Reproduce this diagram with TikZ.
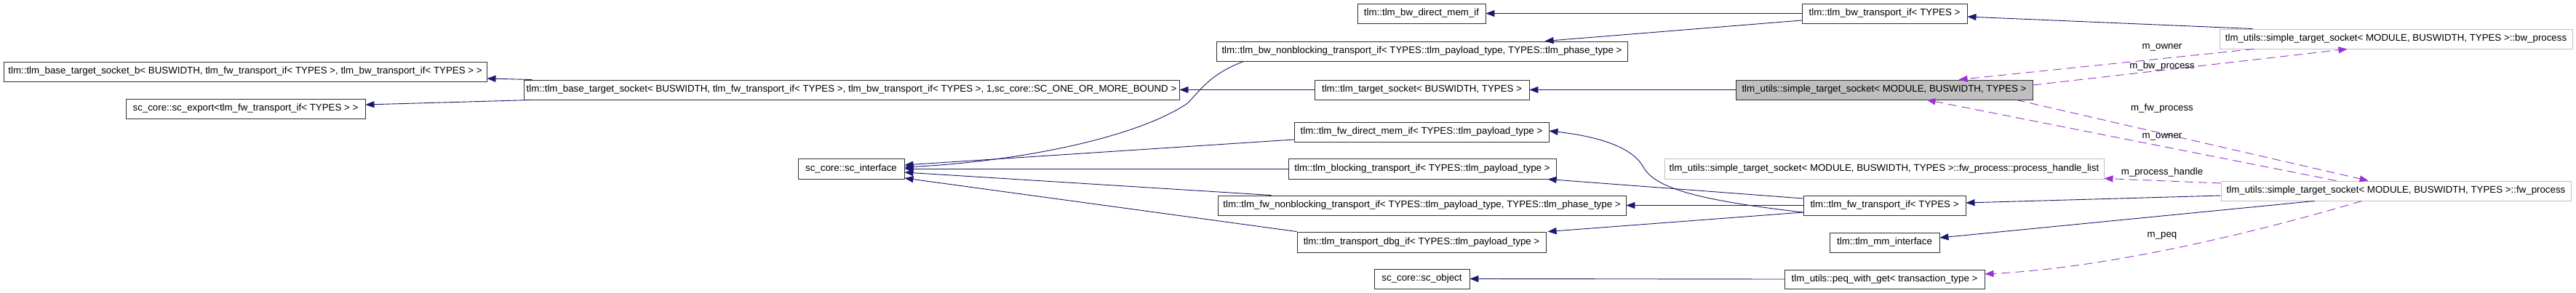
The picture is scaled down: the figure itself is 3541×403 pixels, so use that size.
\documentclass[tikz,border=0pt]{standalone}
\usepackage{fontspec}
\setmainfont{Liberation Sans}
\usetikzlibrary{arrows.meta}
\definecolor{edgeblue}{HTML}{191970}
\definecolor{usepurple}{HTML}{9A32CD}
\definecolor{mainfill}{HTML}{BFBFBF}
\definecolor{lightborder}{HTML}{BFBFBF}
\definecolor{boxborder}{HTML}{303030}
\begin{document}
\begin{tikzpicture}[x=1pt,y=-1pt,
  cls/.style={draw=boxborder, line width=0.9pt, fill=white, inner sep=0pt, font=\fontsize{13.3}{16}\selectfont, minimum height=27pt, anchor=center},
  mainbox/.style={cls, fill=mainfill},
  extbox/.style={cls, draw=lightborder},
  inh/.style={draw=edgeblue, line width=0.9pt, -{Triangle[length=12pt,width=9pt]}},
  use/.style={draw=usepurple, line width=0.9pt, dash pattern=on 12pt off 7pt, -{Triangle[length=12pt,width=9pt]}},
  lbl/.style={font=\fontsize{13.3}{16}\selectfont, inner sep=0pt}]
\fill[white] (0,0) rectangle (3541,403);
\useasboundingbox (0,0) rectangle (3541,403);

% column 1
\node[cls, minimum width=664pt] (bsb) at (337,98.5) {tlm::tlm\_base\_target\_socket\_b< BUSWIDTH, tlm\_fw\_transport\_if< TYPES >, tlm\_bw\_transport\_if< TYPES > >};
\node[cls, minimum width=329pt] (exp) at (337.5,149.5) {sc\_core::sc\_export<tlm\_fw\_transport\_if< TYPES > >};
% column 2
\node[cls, minimum width=901pt] (bts) at (1170.5,123.5) {tlm::tlm\_base\_target\_socket< BUSWIDTH, tlm\_fw\_transport\_if< TYPES >, tlm\_bw\_transport\_if< TYPES >, 1,sc\_core::SC\_ONE\_OR\_MORE\_BOUND >};
\node[cls, minimum width=146pt, minimum height=28pt] (sci) at (1170,232) {sc\_core::sc\_interface};
% column 3
\node[cls, minimum width=176pt] (bwdm) at (1954,18.5) {tlm::tlm\_bw\_direct\_mem\_if};
\node[cls, minimum width=565pt] (bwnb) at (1954.5,70.5) {tlm::tlm\_bw\_nonblocking\_transport\_if< TYPES::tlm\_payload\_type, TYPES::tlm\_phase\_type >};
\node[cls, minimum width=295pt] (ts) at (1954.5,123.5) {tlm::tlm\_target\_socket< BUSWIDTH, TYPES >};
\node[cls, minimum width=350pt] (fwdm) at (1954,181.5) {tlm::tlm\_fw\_direct\_mem\_if< TYPES::tlm\_payload\_type >};
\node[cls, minimum width=368pt, minimum height=28pt] (blk) at (1955,232) {tlm::tlm\_blocking\_transport\_if< TYPES::tlm\_payload\_type >};
\node[cls, minimum width=561pt] (fwnb) at (1954.5,282.5) {tlm::tlm\_fw\_nonblocking\_transport\_if< TYPES::tlm\_payload\_type, TYPES::tlm\_phase\_type >};
\node[cls, minimum width=342pt, minimum height=28pt] (dbg) at (1954,333) {tlm::tlm\_transport\_dbg\_if< TYPES::tlm\_payload\_type >};
\node[cls, minimum width=131pt] (sco) at (1954.5,383.5) {sc\_core::sc\_object};
% column 4
\node[cls, minimum width=227pt] (bwt) at (2590.5,18.5) {tlm::tlm\_bw\_transport\_if< TYPES >};
\node[mainbox, minimum width=408pt] (sts) at (2590,123.5) {tlm\_utils::simple\_target\_socket< MODULE, BUSWIDTH, TYPES >};
\node[extbox, minimum width=604pt, minimum height=28pt] (phl) at (2590,232) {tlm\_utils::simple\_target\_socket< MODULE, BUSWIDTH, TYPES >::fw\_process::process\_handle\_list};
\node[cls, minimum width=223pt] (fwt) at (2590.5,282.5) {tlm::tlm\_fw\_transport\_if< TYPES >};
\node[cls, minimum width=151pt] (mm) at (2590.5,333.5) {tlm::tlm\_mm\_interface};
\node[cls, minimum width=275pt, minimum height=26pt] (peq) at (2590.5,384) {tlm\_utils::peq\_with\_get< transaction\_type >};
% column 5
\node[extbox, minimum width=485pt] (bwp) at (3293.5,53.5) {tlm\_utils::simple\_target\_socket< MODULE, BUSWIDTH, TYPES >::bw\_process};
\node[extbox, minimum width=481pt] (fwp) at (3293.5,262.5) {tlm\_utils::simple\_target\_socket< MODULE, BUSWIDTH, TYPES >::fw\_process};

% inheritance edges
\draw[inh] ([shift={(12,0)}]bts.north west) -- ([shift={(0,9.5)}]bsb.east);
\draw[inh] ([shift={(12,0)}]bts.south west) -- ([shift={(0,-5.5)}]exp.east);
\draw[inh] (ts.west) -- (bts.east);
\draw[inh] (sts.west) -- (ts.east);
\draw[inh] ([shift={(38,0)}]bwnb.south west) .. controls (1660,103) and (1648,128) .. (1631,143) .. controls (1560,190) and (1400,222) .. ([shift={(0,-2)}]sci.east);
\draw[inh] ([shift={(0,10.5)}]fwdm.west) -- ([shift={(0,-5)}]sci.east);
\draw[inh] (blk.west) -- (sci.east);
\draw[inh] ([shift={(74,0)}]fwnb.north west) -- ([shift={(0,5)}]sci.east);
\draw[inh] (dbg.north west) -- ([shift={(0,13)}]sci.east);
\draw[inh] (bwt.west) -- (bwdm.east);
\draw[inh] ([shift={(0,9.5)}]bwt.west) -- ([shift={(452,0)}]bwnb.north west);
\draw[inh] ([shift={(0,9.5)}]fwt.west) .. controls (2330,275) and (2275,258) .. (2259,230) .. controls (2243,200) and (2190,187) .. ([shift={(0,-1.5)}]fwdm.east);
\draw[inh] ([shift={(0,-9.5)}]fwt.west) -- ([shift={(357,0)}]blk.south west);
\draw[inh] (fwt.west) -- (fwnb.east);
\draw[inh] ([shift={(0,9.5)}]fwt.west) -- ([shift={(345,0)}]dbg.north west);
\draw[inh] (peq.west) -- (sco.east);
\draw[inh] ([shift={(46,0)}]bwp.north west) -- ([shift={(0,4.5)}]bwt.east);
\draw[inh] ([shift={(0,6.5)}]fwp.west) -- ([shift={(0,-3.5)}]fwt.east);
\draw[inh] ([shift={(129,0)}]fwp.south west) -- ([shift={(0,-6.5)}]mm.east);

% usage edges
\draw[use] ([shift={(48,0)}]bwp.south west) -- ([shift={(307,0)}]sts.north west);
\draw[use] ([shift={(0,-6.5)}]sts.east) -- ([shift={(176,0)}]bwp.south west);
\draw[use] ([shift={(386,0)}]sts.south west) -- ([shift={(203,0)}]fwp.north west);
\draw[use] ([shift={(159,0)}]fwp.north west) -- ([shift={(263,0)}]sts.south west);
\draw[use] ([shift={(0,-10.5)}]fwp.west) -- ([shift={(0,-1)}]phl.south east);
\draw[use] ([shift={(194,0)}]fwp.south west) .. controls (3100,320) and (2900,368) .. ([shift={(0,-7)}]peq.east);

% labels
\node[lbl] (l1) at (2972,65) {m\_owner};
\node[lbl] (l2) at (2972,91) {m\_bw\_process};
\node[lbl] (l3) at (2972,149) {m\_fw\_process};
\node[lbl] (l4) at (2972,188) {m\_owner};
\node[lbl] (l5) at (2972,237) {m\_process\_handle};
\node[lbl] (l6) at (2972,324) {m\_peq};
\end{tikzpicture}
\end{document}
